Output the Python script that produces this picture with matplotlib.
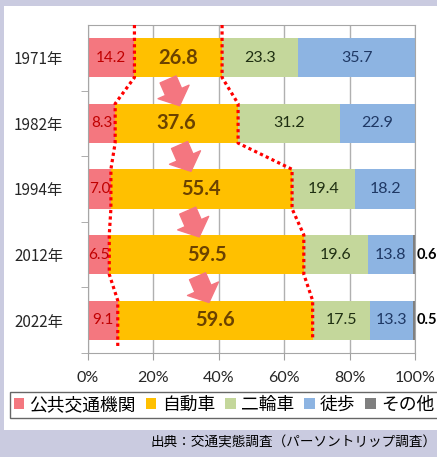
import matplotlib.pyplot as plt
from matplotlib.patches import Patch, Rectangle

years = ['1971年', '1982年', '1994年', '2012年', '2022年']
public = [14.2, 8.3, 7.0, 6.5, 9.1]
car = [26.8, 37.6, 55.4, 59.5, 59.6]
bike = [23.3, 31.2, 19.4, 19.6, 17.5]
walk = [35.7, 22.9, 18.2, 13.8, 13.3]
other = [0, 0, 0, 0.6, 0.5]
names = ['公共交通機関', '自動車', '二輪車', '徒歩', 'その他']
colors = ['#f4777f', '#ffc000', '#c4d79b', '#8db4e2', '#7f7f7f']
label_colors = ['#c00000', '#6b4200', '#1f2f12', '#1f3864']
label_sizes = [11, 14.5, 11.5, 11.5]

cjk = ['Noto Sans CJK JP', 'DejaVu Sans']
num_font = ['Lato', 'DejaVu Sans']

fig = plt.figure(figsize=(4.37, 4.57), dpi=100, facecolor='#cacbe0')
# white panel behind everything
fig.patches.append(Rectangle((0.009, 0.059), 1.0, 0.928, transform=fig.transFigure,
                             facecolor='white', edgecolor='none', zorder=-10))
ax = fig.add_axes([88 / 437, 1 - 353 / 457, 327 / 437, 328 / 457])
ax.set_facecolor('white')

ypos = list(range(len(years)))
series = [public, car, bike, walk, other]
left = [0.0] * len(years)
for s, (vals, col, name) in enumerate(zip(series, colors, names)):
    ax.barh(ypos, vals, left=left, height=0.6, color=col, zorder=2, label=name)
    for i, v in enumerate(vals):
        if s < 4:
            ax.text(left[i] + v / 2, i, f'{v:.1f}', ha='center', va='center',
                    color=label_colors[s], fontsize=label_sizes[s], family=num_font,
                    weight='bold' if s == 1 else 'normal', zorder=5)
        elif v > 0:
            ax.text(100.6, i, f'{v:.1f}', ha='left', va='center', color='black',
                    fontsize=10.5, family=num_font, weight='bold', clip_on=False)
    left = [l + v for l, v in zip(left, vals)]

# dotted red boundary lines
b1 = public
b2 = [p + c for p, c in zip(public, car)]
for bnd, y0, y1 in [(b1, -0.5, 4.42), (b2, -0.5, 4.3)]:
    xs, ys = [bnd[0]], [y0]
    for i, v in enumerate(bnd):
        if i > 0:
            xs.append(v)
            ys.append(i - 0.3)
        xs.append(v)
        ys.append(i + 0.3 if i < len(bnd) - 1 else y1)
    ax.plot(xs, ys, color='#ff0000', lw=2.3, linestyle=(0, (1, 1)), zorder=4,
            clip_on=False)

# pink arrows between bars
arrow_x = [(24.5, 28), (28, 31.5), (30.5, 34), (33.5, 37)]
for i, (xa, xb) in enumerate(arrow_x):
    ax.annotate('', xy=(xb, i + 0.73), xytext=(xa, i + 0.33),
                arrowprops=dict(arrowstyle='simple,head_length=0.6,head_width=1.35,tail_width=0.7',
                                color='#f47680', mutation_scale=18, shrinkA=0, shrinkB=0),
                zorder=3)

ax.set_xlim(0, 100)
ax.set_ylim(4.5, -0.5)
ax.set_xticks([0, 20, 40, 60, 80, 100])
ax.set_xticklabels(['0%', '20%', '40%', '60%', '80%', '100%'], family=num_font,
                   fontsize=11.5, color='#262626')
ax.set_yticks(ypos)
ax.set_yticklabels(years, family=cjk, fontsize=11, color='#262626')
ax.set_yticks([0.5, 1.5, 2.5, 3.5, 4.5], minor=True)
ax.tick_params(axis='y', which='major', length=0, pad=18)
ax.tick_params(axis='y', which='minor', length=5, color='#a0a0a0')
ax.tick_params(axis='x', length=5, color='#a0a0a0', pad=8)
ax.grid(axis='x', color='#b0b0b0', lw=1, zorder=1)
for sp in ax.spines.values():
    sp.set_color('#a6a6a6')

handles = [Patch(facecolor=c, edgecolor='none') for c in colors]
leg = fig.legend(handles, names, loc='center left', bbox_to_anchor=(10 / 437, 1 - 405 / 457),
                 ncol=5, frameon=True, fancybox=False, edgecolor='#404040',
                 prop={'family': cjk, 'size': 12.8}, handlelength=0.6, handleheight=0.6,
                 handletextpad=0.3, columnspacing=0.55, borderpad=0.2, borderaxespad=0)
leg.get_frame().set_linewidth(1)

fig.text(150 / 437, 1 - 443 / 457, '出典：交通実態調査（パーソントリップ調査）',
         family=cjk, fontsize=9.8, ha='left', va='center', color='black')

fig.savefig('out.png', dpi=100, facecolor=fig.get_facecolor())
